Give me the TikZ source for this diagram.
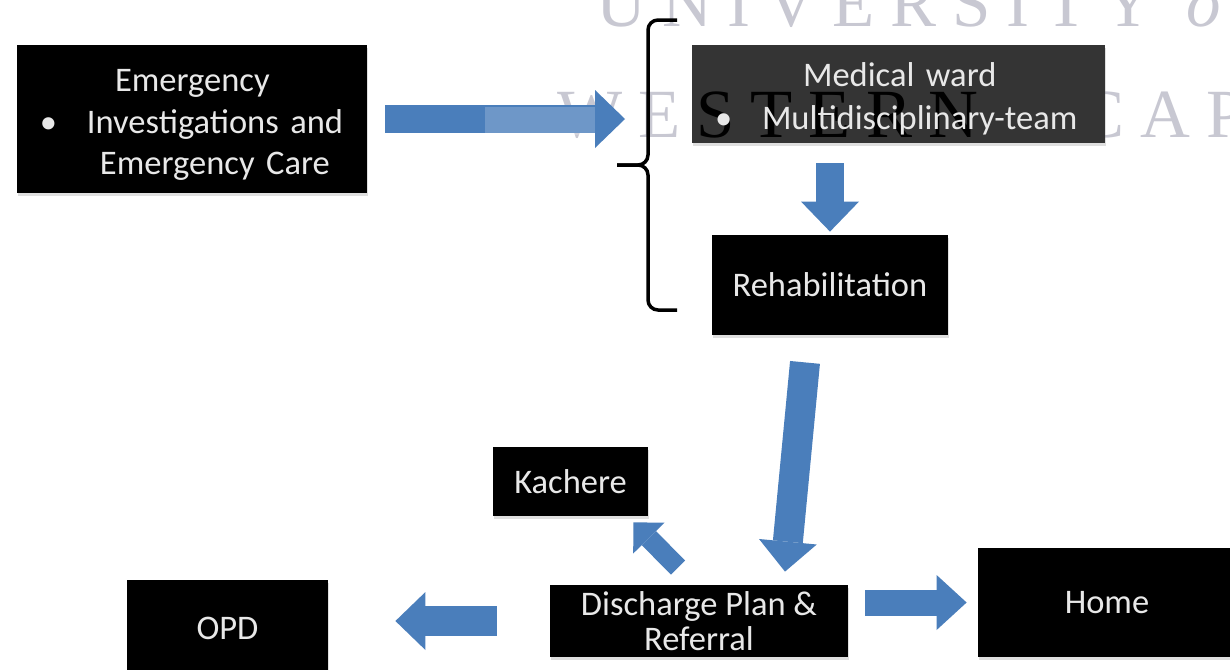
\documentclass[tikz,border=0pt]{standalone}
\usepackage{fontspec}
\setmainfont{Carlito}
\newfontfamily\markfont[LetterSpace=23]{Liberation Serif}
\usepackage{tikz}
\usetikzlibrary{arrows.meta,shadows}

\definecolor{arrowblue}{RGB}{74,126,187}
\definecolor{markgray}{RGB}{200,200,210}
\definecolor{wardgray}{RGB}{52,52,52}
\definecolor{boxtext}{RGB}{232,232,232}

\newcommand{\bulitem}[1]{\hspace*{11.5pt}\makebox[23.5pt][l]{\textbullet}#1}
\newcommand{\markwest}{WESTERN\hspace{50pt}CAPE}

\begin{document}
\begin{tikzpicture}[x=0.5pt, y=-0.5pt,
    blackbox/.style={fill=black, text=boxtext, inner sep=0pt,
        font=\fontsize{17.25}{20.75}\selectfont,
        drop shadow={shadow xshift=0.5pt, shadow yshift=-1.5pt, opacity=0.25}},
    blockarrow/.style={draw=arrowblue, line width=14pt,
        -{Triangle[width=29pt, length=15pt, line width=0pt]}},
    watermark/.style={text=markgray, inner sep=0pt, anchor=base west,
        font=\markfont\fontsize{34.5}{40}\selectfont}]

    \useasboundingbox (0,0) rectangle (1230,669);
    \clip (0,0) rectangle (1230,669);
    \fill[white] (0,0) rectangle (1230,669);

    \node[watermark] (wmtop) at (596,26) {UNIVERSITY \textit{of}};
    \node[watermark] (wmwest) at (557,137) {\markwest};

    \node[blackbox, minimum width=175pt, minimum height=74pt, text width=175pt, align=left] (emerg) at (192,119)
        {\hspace*{49pt}\rule{0pt}{17pt}Emergency\\ \bulitem{Investigations and}\\ \hspace*{41.5pt}Emergency Care};
    \node[blackbox, fill=wardgray, minimum width=206.5pt, minimum height=49pt, text width=206.5pt, align=left,
        font=\fontsize{17.25}{21.5}\selectfont,
        path picture={\node[watermark, text=black] at (wmwest.base west) {\markwest};}] (ward) at (898.5,94)
        {\hspace*{55.5pt}\rule{0pt}{17pt}Medical ward\\ \bulitem{Multidisciplinary-team}};
    \node[blackbox, minimum width=118pt, minimum height=50pt] (rehab) at (830,285) {Rehabilitation};
    \node[blackbox, minimum width=77.5pt, minimum height=34.5pt] (kach) at (570.5,481.5) {Kachere};
    \node[blackbox, minimum width=149pt, minimum height=36pt, align=center,
        font=\fontsize{17.25}{17.5}\selectfont] (dis) at (699,621) {Discharge Plan \&\\Referral};
    \node[blackbox, minimum width=100.5pt, minimum height=48pt] (opd) at (227.5,628) {OPD};
    \node[blackbox, minimum width=129pt, minimum height=54.5pt] (home) at (1107,602.5) {Home};

    \coordinate (bracemid) at (648,165);
    \draw[line width=1.75pt] (677,20) -- (658,20) to[out=180,in=90] (648,30) -- (648,155)
        to[out=-90,in=0] (638,165) -- (617,165);
    \draw[line width=1.75pt] (617,165) -- (638,165) to[out=0,in=90] (648,175) -- (648,300)
        to[out=-90,in=180] (658,310) -- (677,310);

    \draw[blockarrow, shorten <=9pt, shorten >=11.5pt] (emerg.east) -- (emerg.east -| bracemid);
    \fill[white, opacity=0.2] (485,107) rectangle (595,135);
    \draw[blockarrow, shorten <=10pt, shorten >=1.5pt] (rehab.north |- ward.south) -- (rehab.north);
    \draw[blockarrow, line width=15pt] ([shift={(-25,27)}]rehab.south) -- ([shift={(86,-13)}]dis.north);
    \draw[blockarrow, line width=10pt, -{Triangle[width=22pt, length=11pt, line width=0pt]}]
        ([shift={(-21,-17)}]dis.north) -- ([shift={(-15,6)}]kach.south east);
    \draw[blockarrow, line width=15pt, shorten <=26.5pt, shorten >=33.5pt] (dis.west) -- (dis.west -| opd.east);
    \draw[blockarrow, line width=13pt, -{Triangle[width=27.5pt, length=15pt, line width=0pt]},
        shorten <=8.5pt, shorten >=5.5pt] (dis.east |- home.west) -- (home.west);

\end{tikzpicture}
\end{document}
